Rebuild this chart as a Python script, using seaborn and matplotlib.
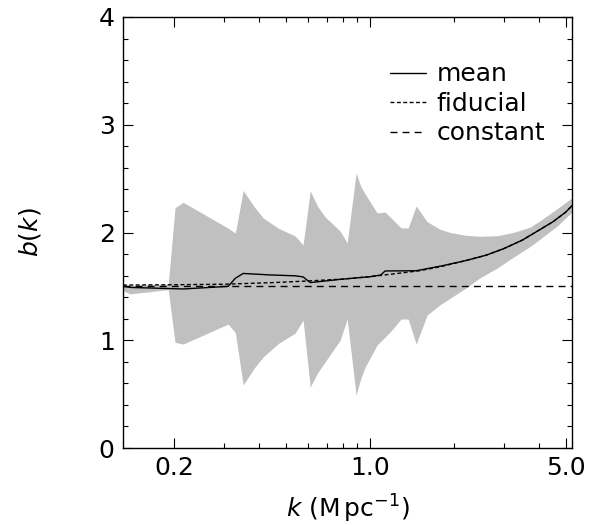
import numpy as np
import pandas as pd
import matplotlib
matplotlib.use("Agg")
import matplotlib.pyplot as plt
import seaborn as sns

# ---- data ----
band_k = [0.131, 0.139, 0.190, 0.201, 0.215, 0.311, 0.330, 0.352, 0.385, 0.415,
          0.470, 0.540, 0.576, 0.611, 0.650, 0.691, 0.781, 0.828, 0.891, 0.925,
          0.960, 1.059, 1.131, 1.179, 1.290, 1.367, 1.460, 1.598, 1.778, 1.931,
          2.184, 2.470, 2.842, 3.242, 3.727, 4.05, 4.65, 5.31]
band_upper = [1.52, 1.51, 1.52, 2.23, 2.28, 2.04, 1.995, 2.39, 2.24, 2.135,
              2.04, 1.967, 1.884, 2.386, 2.24, 2.144, 2.014, 1.903, 2.552, 2.43,
              2.357, 2.181, 2.19, 2.144, 2.042, 2.042, 2.246, 2.10, 2.03, 2.00,
              1.975, 1.965, 1.97, 2.00, 2.05, 2.11, 2.22, 2.33]
band_lower = [1.46, 1.43, 1.47, 0.98, 0.965, 1.15, 1.07, 0.585, 0.74, 0.845,
              0.97, 1.067, 1.188, 0.566, 0.70, 0.80, 1.00, 1.197, 0.492, 0.64,
              0.752, 0.956, 1.03, 1.077, 1.197, 1.197, 0.965, 1.234, 1.33, 1.39,
              1.48, 1.58, 1.67, 1.77, 1.87, 1.94, 2.06, 2.20]

mean_k = [0.131, 0.14, 0.19, 0.215, 0.311, 0.330, 0.352, 0.44, 0.54, 0.576,
          0.611, 0.781, 1.0, 1.09, 1.131, 1.46, 1.8, 2.2, 2.6, 3.0, 3.5, 4.0,
          4.5, 5.0, 5.4]
mean_b = [1.50, 1.49, 1.48, 1.476, 1.50, 1.575, 1.62, 1.606, 1.598, 1.588,
          1.535, 1.565, 1.59, 1.605, 1.643, 1.645, 1.69, 1.74, 1.79, 1.85, 1.93,
          2.02, 2.10, 2.19, 2.28]

fid_k = [0.131, 0.2, 0.3, 0.45, 0.6, 0.8, 1.0, 1.25, 1.5, 1.8, 2.2, 2.6, 3.0,
         3.5, 4.0, 4.5, 5.0, 5.4]
fid_b = [1.512, 1.515, 1.52, 1.535, 1.55, 1.568, 1.59, 1.62, 1.645, 1.685,
         1.74, 1.79, 1.85, 1.93, 2.02, 2.10, 2.19, 2.28]

const_b = 1.5

x_ticks = [0.2, 1.0, 5.0]
x_ticklabels = ["0.2", "1.0", "5.0"]
y_ticks = [0, 1, 2, 3, 4]

# ---- figure ----
sns.set_style("ticks")
plt.rcParams["font.family"] = ["DejaVu Sans"]
plt.rcParams["mathtext.fontset"] = "dejavusans"
for key in ["text.color", "axes.labelcolor", "xtick.color", "ytick.color", "axes.edgecolor"]:
    plt.rcParams[key] = "black"

fig = plt.figure(figsize=(5.91, 5.25), dpi=100)
ax = fig.add_axes([123 / 591, 1 - 448 / 525, (572 - 123) / 591, (448 - 17) / 525])

ax.fill_between(band_k, band_lower, band_upper, color="#c0c0c0", linewidth=0, zorder=1)

mean_df = pd.DataFrame({"k": mean_k, "b": mean_b})
fid_df = pd.DataFrame({"k": fid_k, "b": fid_b})
sns.lineplot(data=mean_df, x="k", y="b", ax=ax, color="black", lw=1.0,
             label="mean", sort=False, zorder=3)
sns.lineplot(data=fid_df, x="k", y="b", ax=ax, color="black", lw=1.0,
             label="fiducial", sort=False, zorder=3)
ax.lines[-1].set_dashes((2.8, 1.8))
ax.axhline(const_b, color="black", lw=1.0, dashes=(5, 3.7), label="constant", zorder=2)

ax.set_xscale("log")
ax.set_xlim(0.131, 5.26)
ax.set_ylim(0, 4)
ax.set_xticks(x_ticks)
ax.set_xticklabels(x_ticklabels)
ax.set_yticks(y_ticks)
ax.yaxis.set_minor_locator(matplotlib.ticker.MultipleLocator(0.2))
ax.xaxis.set_minor_locator(matplotlib.ticker.LogLocator(base=10, subs=np.arange(2, 10)))
ax.xaxis.set_minor_formatter(matplotlib.ticker.NullFormatter())

ax.tick_params(which="both", direction="in", top=True, right=True, labelsize=18,
               width=0.8, color="black", labelcolor="black")
ax.tick_params(which="major", length=7.2, pad=6)
ax.tick_params(which="minor", length=3.6)
for s in ax.spines.values():
    s.set_linewidth(1.0)
    s.set_color("black")

ax.set_xlabel("$k$ (M$\\,$pc$^{-1}$)", fontsize=18, labelpad=9, color="black")
ax.set_ylabel("$b(k)$", fontsize=18, labelpad=40, color="black")

leg = ax.legend(loc="upper right", bbox_to_anchor=(0.962, 0.918), frameon=False,
                fontsize=18, handlelength=1.45, handletextpad=0.4, labelspacing=0.22,
                borderaxespad=0)
for t in leg.get_texts():
    t.set_color("black")

fig.savefig("out.png", dpi=100)
